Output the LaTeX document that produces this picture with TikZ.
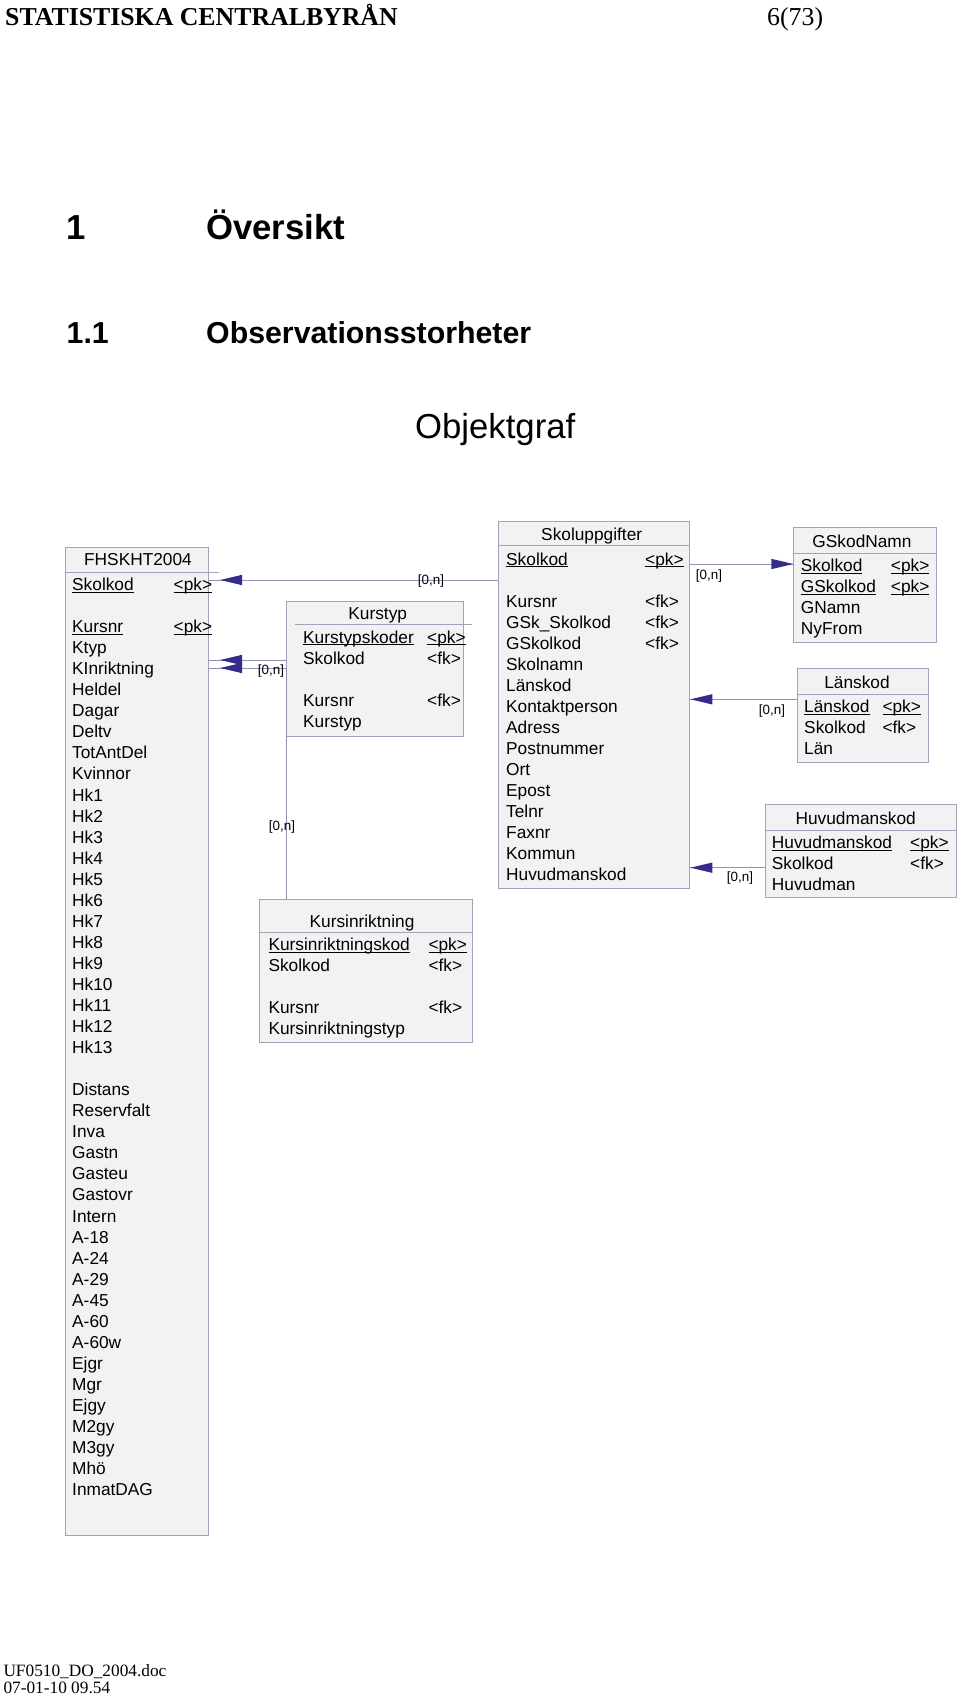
\documentclass[tikz,border=0pt]{standalone}
\usepackage{fontspec}
\setmainfont{Liberation Sans}
\newfontfamily\timesf{Liberation Serif}
\usetikzlibrary{arrows.meta,decorations.markings}

\definecolor{boxfill}{RGB}{242,242,242}
\definecolor{boxline}{RGB}{162,162,184}
\definecolor{connline}{RGB}{145,145,182}
\definecolor{arrowc}{RGB}{52,44,140}

\newcommand{\ulx}[1]{\setbox0\hbox{#1}\rlap{\rule[-2.4pt]{\wd0}{1.1pt}}\box0}

\tikzset{
  ebox/.style={draw=boxline, fill=boxfill, line width=1.1pt, inner sep=0pt, anchor=north west},
  sepline/.style={draw=boxline, line width=1pt},
  conn/.style={draw=connline, line width=1pt},
  lbl/.style={font=\fontsize{13.4}{15}\selectfont, inner sep=0pt},
  row/.style={font=\fontsize{17.3}{20}\selectfont, anchor=base west, inner sep=0pt},
  hdr/.style={font=\fontsize{17.3}{20}\selectfont, anchor=base, inner sep=0pt},
  ahead/.style={postaction={decorate}, decoration={markings, mark=at position #1 with {\fill[arrowc] (0pt,0pt) -- (-22pt,5.2pt) -- (-22pt,-5.2pt) -- cycle;}}},
}

\begin{document}
\begin{tikzpicture}[x=1pt,y=-1pt]
\fill[white] (0,0) rectangle (960,1699);
\useasboundingbox (0,0) rectangle (960,1699);

% page header / footer / headings
\node[anchor=base west, inner sep=0pt, font=\timesf\bfseries\fontsize{25.8}{28}\selectfont] (org) at (5,26) {STATISTISKA CENTRALBYRÅN};
\node[anchor=base west, inner sep=0pt, font=\timesf\fontsize{25.8}{28}\selectfont] (pg) at (767,26) {6(73)};
\node[anchor=base west, inner sep=0pt, font=\bfseries\fontsize{34.7}{38}\selectfont] (h1n) at (66.5,239.3) {1};
\node[anchor=base west, inner sep=0pt, font=\bfseries\fontsize{34.7}{38}\selectfont] (h1t) at (206,239.3) {Översikt};
\node[anchor=base west, inner sep=0pt, font=\bfseries\fontsize{30.3}{34}\selectfont] (h2n) at (66.5,343.3) {1.1};
\node[anchor=base west, inner sep=0pt, font=\bfseries\fontsize{30.3}{34}\selectfont] (h2t) at (206,343.3) {Observationsstorheter};
\node[anchor=base west, inner sep=0pt, font=\fontsize{34.7}{38}\selectfont] (title) at (415,438.3) {Objektgraf};
\node[anchor=base west, inner sep=0pt, font=\timesf\fontsize{17.3}{19}\selectfont] (f1) at (3.3,1676) {UF0510\_DO\_2004.doc};
\node[anchor=base west, inner sep=0pt, font=\timesf\fontsize{17.3}{19}\selectfont] (f2) at (3.3,1693.3) {07-01-10 09.54};

% boxes
\node[ebox, minimum width=143pt, minimum height=988pt] (fh) at (65,547) {};
\node[ebox, minimum width=176.5pt, minimum height=135.5pt] (kt) at (286,600.5) {};
\node[ebox, minimum width=213pt, minimum height=142.7pt] (ki) at (259.3,899) {};
\node[ebox, minimum width=191pt, minimum height=367pt] (su) at (498.3,521) {};
\node[ebox, minimum width=142.7pt, minimum height=114.4pt] (gs) at (793.3,527.3) {};
\node[ebox, minimum width=131.6pt, minimum height=94pt] (ls) at (796.7,668.3) {};
\node[ebox, minimum width=191pt, minimum height=93pt] (hm) at (765,804.3) {};

% separators
\draw[sepline] (65,572) -- (219,572);
\draw[sepline] (295,624) -- (472,624);
\draw[sepline] (259.3,932.7) -- (472.3,932.7);
\draw[sepline] (498.3,545) -- (689.3,545);
\draw[sepline] (793.3,553.3) -- (936,553.3);
\draw[sepline] (796.7,694) -- (928.3,694);
\draw[sepline] (765,830) -- (956,830);

% FHSKHT2004
\node[hdr] (fhh) at (138,565.5) {FHSKHT2004};
\node[row] (fh0) at (72,590.5) {\ulx{Skolkod}};
\node[row] (fh0k) at (173.5,590.5) {\ulx{<pk>}};
\node[row] (fh2) at (72,632.6) {\ulx{Kursnr}};
\node[row] (fh2k) at (173.5,632.6) {\ulx{<pk>}};
\foreach \t [count=\i from 3] in {Ktyp,KInriktning,Heldel,Dagar,Deltv,TotAntDel,Kvinnor,Hk1,Hk2,Hk3,Hk4,Hk5,Hk6,Hk7,Hk8,Hk9,Hk10,Hk11,Hk12,Hk13}
  \node[row] (fha\i) at (72,{590.5+21.05*\i}) {\t};
\foreach \t [count=\i from 24] in {Distans,Reservfalt,Inva,Gastn,Gasteu,Gastovr,Intern,A-18,A-24,A-29,A-45,A-60,A-60w,Ejgr,Mgr,Ejgy,M2gy,M3gy,Mhö,InmatDAG}
  \node[row] (fhb\i) at (72,{590.5+21.05*\i}) {\t};

% Kurstyp
\node[hdr] (kth) at (377.7,619.2) {Kurstyp};
\node[row] (kt0) at (303,643) {\ulx{Kurstypskoder}};
\node[row] (kt0k) at (427,643) {\ulx{<pk>}};
\node[row] (kt1) at (303,664.05) {Skolkod};
\node[row] (kt1k) at (427,664.05) {<fk>};
\node[row] (kt3) at (303,706.15) {Kursnr};
\node[row] (kt3k) at (427,706.15) {<fk>};
\node[row] (kt4) at (303,727.2) {Kurstyp};

% Kursinriktning
\node[hdr] (kih) at (362,927.2) {Kursinriktning};
\node[row] (ki0) at (268.3,950.5) {\ulx{Kursinriktningskod}};
\node[row] (ki0k) at (428.3,950.5) {\ulx{<pk>}};
\node[row] (ki1) at (268.3,971.55) {Skolkod};
\node[row] (ki1k) at (428.3,971.55) {<fk>};
\node[row] (ki3) at (268.3,1013.65) {Kursnr};
\node[row] (ki3k) at (428.3,1013.65) {<fk>};
\node[row] (ki4) at (268.3,1034.7) {Kursinriktningstyp};

% Skoluppgifter
\node[hdr] (suh) at (591.7,540.5) {Skoluppgifter};
\node[row] (su0) at (506,565) {\ulx{Skolkod}};
\node[row] (su0k) at (645,565) {\ulx{<pk>}};
\foreach \t [count=\i from 2] in {Kursnr,GSk\_Skolkod,GSkolkod,Skolnamn,Länskod,Kontaktperson,Adress,Postnummer,Ort,Epost,Telnr,Faxnr,Kommun,Huvudmanskod}
  \node[row] (sua\i) at (506,{565+21.05*\i}) {\t};
\foreach \i in {2,3,4}
  \node[row] (suk\i) at (645,{565+21.05*\i}) {<fk>};

% GSkodNamn
\node[hdr] (gsh) at (862,547.5) {GSkodNamn};
\node[row] (gs0) at (800.7,571.5) {\ulx{Skolkod}};
\node[row] (gs0k) at (890.7,571.5) {\ulx{<pk>}};
\node[row] (gs1) at (800.7,592.55) {\ulx{GSkolkod}};
\node[row] (gs1k) at (890.7,592.55) {\ulx{<pk>}};
\node[row] (gs2) at (800.7,613.6) {GNamn};
\node[row] (gs3) at (800.7,634.65) {NyFrom};

% Länskod
\node[hdr] (lsh) at (857,688.2) {Länskod};
\node[row] (ls0) at (804,712.5) {\ulx{Länskod}};
\node[row] (ls0k) at (882.3,712.5) {\ulx{<pk>}};
\node[row] (ls1) at (804,733.55) {Skolkod};
\node[row] (ls1k) at (882.3,733.55) {<fk>};
\node[row] (ls2) at (804,754.6) {Län};

% Huvudmanskod
\node[hdr] (hmh) at (855.7,824.2) {Huvudmanskod};
\node[row] (hm0) at (771.7,848.8) {\ulx{Huvudmanskod}};
\node[row] (hm0k) at (910,848.8) {\ulx{<pk>}};
\node[row] (hm1) at (771.7,869.85) {Skolkod};
\node[row] (hm1k) at (910,869.85) {<fk>};
\node[row] (hm2) at (771.7,890.9) {Huvudman};

% connectors
\coordinate (yA) at (0,580);
\coordinate (yB) at (0,660);
\coordinate (yC) at (0,668);
\coordinate (yD) at (0,564);
\coordinate (yE) at (0,699.3);
\coordinate (yF) at (0,867.7);
\draw[conn, ahead=-11pt] (su.west |- yA) -- (fh.east |- yA);
\draw[conn, ahead=-11pt] (kt.west |- yB) -- (fh.east |- yB);
\draw[conn, ahead=-11pt] (ki.north -| kt.west) |- (fh.east |- yC);
\draw[conn, ahead=-0.01pt] (su.east |- yD) -- (gs.west |- yD);
\draw[conn, ahead=-0.01pt] (ls.west |- yE) -- (su.east |- yE);
\draw[conn, ahead=-0.01pt] (hm.west |- yF) -- (su.east |- yF);

% labels
\node[lbl] (l1) at (431,581) {[0,n]};
\node[lbl] (l2) at (271,671) {[0,n]};
\node[lbl] (l3) at (282,827) {[0,n]};
\node[lbl] (l4) at (709,576) {[0,n]};
\node[lbl] (l5) at (772,711) {[0,n]};
\node[lbl] (l6) at (740,878.5) {[0,n]};
\end{tikzpicture}
\end{document}
